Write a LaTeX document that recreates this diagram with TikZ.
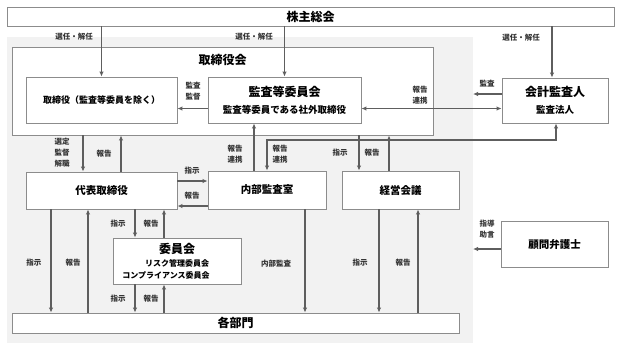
\documentclass[tikz,border=0pt]{standalone}
\usepackage{fontspec}
\setmainfont{Noto Sans CJK JP}
\usetikzlibrary{arrows.meta,positioning}

\definecolor{linegray}{HTML}{5E5E5E}
\definecolor{boxgray}{HTML}{8C8C8C}
\definecolor{bggray}{HTML}{F2F2F2}

\newcommand\ttlfont{\fontsize{12}{14}\selectfont\bfseries}
\newcommand\boxfont{\fontsize{10.5}{12}\selectfont\bfseries}
\newcommand\subfont{\fontsize{9.5}{11}\selectfont\bfseries}
\newcommand\cmtfont{\fontsize{8}{13}\selectfont\bfseries}

\tikzset{
  >={Latex[length=5pt,width=4.5pt]},
  box/.style={draw=boxgray, line width=0.9pt, fill=white, inner sep=0pt, align=center},
  arr/.style={->, draw=linegray, line width=1.3pt},
  arrboth/.style={<->, draw=linegray, line width=1.3pt},
  lbl/.style={font=\fontsize{7.5}{11}\selectfont\bfseries, text=black!80, align=center, inner sep=0pt},
}

\begin{document}
\begin{tikzpicture}[x=1pt,y=-1pt]

\useasboundingbox (0,0) rectangle (624,349);
\fill[bggray] (7,37) rectangle (473,343);

% boxes
\node[box, minimum width=607, minimum height=19] (meeting) at (310.5,16.5) {\ttlfont 株主総会};
\node[box, minimum width=421, minimum height=88,
      label={[anchor=center, yshift=-13pt, font=\ttlfont]north:取締役会}] (board) at (222.5,91) {};
\node[box, minimum width=151, minimum height=46] (directors) at (101.5,100)
  {\fontsize{9}{11}\selectfont\bfseries 取締役（監査等委員を除く）};
\node[box, minimum width=153, minimum height=46] (auditcom) at (284.5,100)
  {{\ttlfont 監査等委員会}\\[5pt]{\subfont 監査等委員である社外取締役}};
\node[box, minimum width=106, minimum height=45] (auditor) at (555,100.5)
  {{\ttlfont 会計監査人}\\[5pt]{\subfont 監査法人}};
\node[box, minimum width=151, minimum height=37] (president) at (101.5,190.5) {\boxfont 代表取締役};
\node[box, minimum width=118, minimum height=38] (internal) at (267,190) {\boxfont 内部監査室};
\node[box, minimum width=117, minimum height=38] (mgmt) at (400.5,190) {\boxfont 経営会議};
\node[box, minimum width=128, minimum height=46] (committee) at (177,261)
  {{\ttlfont 委員会}\\[1pt]{\cmtfont リスク管理委員会\hspace*{22pt}}\\{\cmtfont コンプライアンス委員会\hspace*{22pt}}};
\node[box, minimum width=107, minimum height=46] (lawyer) at (554.5,244) {\boxfont 顧問弁護士};
\node[box, minimum width=447, minimum height=20] (depts) at (235.5,323) {\ttlfont 各部門};

% columns and rows of the connectors
\coordinate (audsel) at (552,0);
\coordinate (audrow) at (0,108.5);
\coordinate (audit) at (473,94);
\coordinate (advice) at (473,249);
\coordinate (selx) at (83,0);
\coordinate (repx) at (121,0);
\coordinate (cmdrow) at (0,181);
\coordinate (reprow) at (0,206);
\coordinate (intup) at (254,0);
\coordinate (audlink) at (556,140);
\coordinate (mgdown) at (359,0);
\coordinate (mgup) at (389,0);
\coordinate (cmdown) at (135,0);
\coordinate (cmup) at (164,0);
\coordinate (prdown) at (51,0);
\coordinate (prup) at (88,0);
\coordinate (intdown) at (305,0);
\coordinate (mgdown2) at (379,0);
\coordinate (mgup2) at (418,0);

% shareholders
\draw[arr] (meeting.south -| directors) -- (directors.north);
\draw[arr] (meeting.south -| auditcom) -- (auditcom.north);
\draw[arr] (meeting.south -| audsel) -- (auditor.north -| audsel);
\node[lbl] (l1) at (74,37) {選任・解任};
\node[lbl] (l2) at (254,37) {選任・解任};
\node[lbl] (l3) at (521,38) {選任・解任};

% audit committee
\draw[arr] (auditcom.west |- audrow) -- (directors.east |- audrow);
\node[lbl] (l4) at (193,91) {監査\\監督};
\draw[arrboth] (auditcom.east |- audrow) -- (auditor.west |- audrow);
\node[lbl] (l5) at (420,95) {報告\\連携};
\draw[arr] (auditor.west |- audit) -- (audit);
\node[lbl] (l6) at (487,84) {監査};

% board and president
\draw[arr] (board.south -| selx) -- (president.north -| selx);
\node[lbl] (l7) at (62,153) {選定\\監督\\解職};
\draw[arr] (president.north -| repx) -- (board.south -| repx);
\node[lbl] (l8) at (104,154) {報告};

% president and internal audit
\draw[arr] (president.east |- cmdrow) -- (internal.west |- cmdrow);
\node[lbl] (l9) at (192,171) {指示};
\draw[arr] (internal.west |- reprow) -- (president.east |- reprow);
\node[lbl] (l10) at (192,196) {報告};

% internal audit, audit committee and auditor
\draw[arr] (internal.north -| intup) -- (auditcom.south -| intup);
\node[lbl] (l11) at (235,154) {報告\\連携};
\draw[arrboth] (auditor.south -| audlink) -- (audlink) -- (audlink -| internal) -- (internal.north);
\node[lbl] (l12) at (280,154) {報告\\連携};

% board and management meeting
\draw[arr] (board.south -| mgdown) -- (mgmt.north -| mgdown);
\node[lbl] (l13) at (340,153) {指示};
\draw[arr] (mgmt.north -| mgup) -- (board.south -| mgup);
\node[lbl] (l14) at (372,153) {報告};

% committees
\draw[arr] (president.south -| cmdown) -- (committee.north -| cmdown);
\node[lbl] (l15) at (118,224) {指示};
\draw[arr] (committee.north -| cmup) -- (president.south -| cmup);
\node[lbl] (l16) at (151,224) {報告};
\draw[arr] (committee.south -| cmdown) -- (depts.north -| cmdown);
\node[lbl] (l17) at (118,299) {指示};
\draw[arr] (depts.north -| cmup) -- (committee.south -| cmup);
\node[lbl] (l18) at (151,299) {報告};

% departments
\draw[arr] (president.south -| prdown) -- (depts.north -| prdown);
\node[lbl] (l19) at (34,263) {指示};
\draw[arr] (depts.north -| prup) -- (president.south -| prup);
\node[lbl] (l20) at (73,263) {報告};
\draw[arr] (internal.south -| intdown) -- (depts.north -| intdown);
\node[lbl] (l21) at (276,264) {内部監査};
\draw[arr] (mgmt.south -| mgdown2) -- (depts.north -| mgdown2);
\node[lbl] (l22) at (360,263) {指示};
\draw[arr] (depts.north -| mgup2) -- (mgmt.south -| mgup2);
\node[lbl] (l23) at (403,263) {報告};

% lawyer
\draw[arr] (lawyer.west |- advice) -- (advice);
\node[lbl] (l24) at (487,229) {指導\\助言};

\end{tikzpicture}
\end{document}
